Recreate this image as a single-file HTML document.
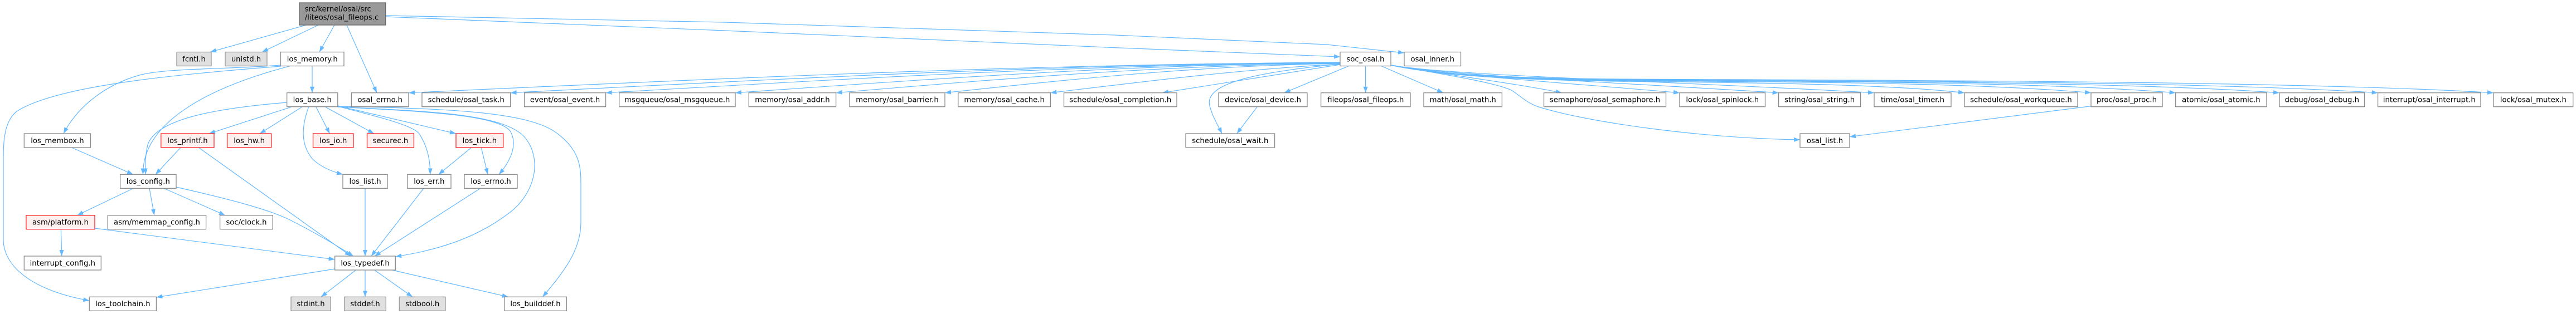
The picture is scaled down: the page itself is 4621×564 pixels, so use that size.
<!DOCTYPE html>
<html>
<head>
<meta charset="utf-8">
<style>
html,body{margin:0;padding:0;background:#fff;}
svg{display:block;}
text{font-family:"DejaVu Sans","Liberation Sans",sans-serif;font-size:13.2px;fill:#000;}
.e{fill:none;stroke:#63b8ff;stroke-width:1.2;}
.n{fill:#fff;stroke:#8a8a8a;stroke-width:1.3;}
.g{fill:#e0e0e0;stroke:#999;stroke-width:1.3;}
.r{fill:#fff0f0;stroke:#ff2020;stroke-width:1.3;}
</style>
</head>
<body>
<svg width="4621" height="564" viewBox="0 0 4621 564" xmlns="http://www.w3.org/2000/svg">
<defs>
<marker id="a" viewBox="0 0 11 8" refX="11" refY="4" markerWidth="11" markerHeight="8" markerUnits="userSpaceOnUse" orient="auto">
<path d="M0,0 L11,4 L0,8 z" fill="#63b8ff"/>
</marker>
</defs>
<rect x="0" y="0" width="4621" height="564" fill="#fff"/>

<g class="edges" marker-end="url(#a)">
<!-- main node edges -->
<path class="e" marker-end="url(#a)" d="M549,45 L377,93.5"/>
<path class="e" marker-end="url(#a)" d="M571,45 L470,93.5"/>
<path class="e" marker-end="url(#a)" d="M600,45 L573,93.5"/>
<path class="e" marker-end="url(#a)" d="M622,45 L676,166.7"/>
<path class="e" marker-end="url(#a)" d="M691.7,30 L1300,55 L2000,85.6 L2404,102"/>
<path class="e" marker-end="url(#a)" d="M691.7,28 L1300,40 L2000,63 L2380,80 L2519,95"/>

<!-- los_memory.h -->
<path class="e" marker-end="url(#a)" d="M560,118.7 L560,166.7"/>
<path class="e" marker-end="url(#a)" d="M520,118.7 C400,150 255,210 256.5,313.3"/>
<path class="e" marker-end="url(#a)" d="M503.6,117 C400,125 300,122 250,135 C190,152 140,190 114,240"/>
<path class="e" marker-end="url(#a)" d="M503.6,119 C300,135 100,155 30,200 C5,220 6,260 6,300 L6,430 C6,480 60,522 160.3,540"/>

<!-- los_membox.h -->
<path class="e" marker-end="url(#a)" d="M129.5,265.5 L238.8,313.3"/>

<!-- los_base.h -->
<path class="e" marker-end="url(#a)" d="M514.7,184 C380,195 280,215 265,260 C260,280 261,300 261,313.3"/>
<path class="e" marker-end="url(#a)" d="M522,192.3 L375,240"/>
<path class="e" marker-end="url(#a)" d="M541.5,192.3 L466,240"/>
<path class="e" marker-end="url(#a)" d="M567,192.3 L591.5,240"/>
<path class="e" marker-end="url(#a)" d="M584,192.3 L671,240"/>
<path class="e" marker-end="url(#a)" d="M553.6,192.3 C540,230 540,260 560,285 C575,300 595,308 615,313.3"/>
<path class="e" marker-end="url(#a)" d="M605.8,190 L818,240"/>
<path class="e" marker-end="url(#a)" d="M606,191 C680,210 740,225 752,240 C768,265 772,290 771.7,313.3"/>
<path class="e" marker-end="url(#a)" d="M606,192 C750,200 890,205 915,235 C930,260 915,290 895,313.3"/>
<path class="e" marker-end="url(#a)" d="M606,192 C780,200 900,205 940,245 C975,285 960,350 910,385 C850,430 780,450 709.3,461"/>
<path class="e" marker-end="url(#a)" d="M606,191 C800,195 950,200 1000,240 C1040,270 1042,300 1042,330 L1042,400 C1042,450 1010,490 973.3,533.3"/>

<!-- los_printf.h -->
<path class="e" marker-end="url(#a)" d="M323.7,265.5 L279,313.3"/>
<path class="e" marker-end="url(#a)" d="M357,265.5 L629.5,460"/>

<!-- los_config.h -->
<path class="e" marker-end="url(#a)" d="M238.8,338.5 L138.4,386.7"/>
<path class="e" marker-end="url(#a)" d="M268,338.5 L276.8,386.7"/>
<path class="e" marker-end="url(#a)" d="M294.6,338.5 L404,386.7"/>
<path class="e" marker-end="url(#a)" d="M316,336 C400,355 480,375 520,395 C570,420 610,445 634,460"/>

<!-- asm/platform.h -->
<path class="e" marker-end="url(#a)" d="M109.4,411.7 L110.7,460"/>
<path class="e" marker-end="url(#a)" d="M170,410 L600.7,466"/>

<!-- los_list / err / errno / tick -->
<path class="e" marker-end="url(#a)" d="M655,338.3 L655,460"/>
<path class="e" marker-end="url(#a)" d="M760,338.3 L666,460"/>
<path class="e" marker-end="url(#a)" d="M861.7,338.3 L672,460"/>
<path class="e" marker-end="url(#a)" d="M845,265.5 L786.7,313.3"/>
<path class="e" marker-end="url(#a)" d="M863.3,265.5 L875,313.3"/>

<!-- los_typedef.h -->
<path class="e" marker-end="url(#a)" d="M600.7,483 L280.4,534"/>
<path class="e" marker-end="url(#a)" d="M638.4,485 L576,533.3"/>
<path class="e" marker-end="url(#a)" d="M655,485 L655,533.3"/>
<path class="e" marker-end="url(#a)" d="M671.7,485 L740,533.3"/>
<path class="e" marker-end="url(#a)" d="M703.3,485 L911.7,533.3"/>

<!-- soc_osal.h left fan -->
<path class="e" marker-end="url(#a)" d="M2404,112 C1819,116 1318,140 733,166.7"/>
<path class="e" marker-end="url(#a)" d="M2404,112 C1883,116 1436,140 915.6,166.7"/>
<path class="e" marker-end="url(#a)" d="M2404,113 C1943,116 1548,140 1086.6,166.7"/>
<path class="e" marker-end="url(#a)" d="M2404,113 C2024,116 1699,140 1319,166.7"/>
<path class="e" marker-end="url(#a)" d="M2404,114 C2087,117 1816,140 1499.6,166.7"/>
<path class="e" marker-end="url(#a)" d="M2404,114 C2156,118 1943,140 1695,166.7"/>
<path class="e" marker-end="url(#a)" d="M2404,115 C2222,125 2066,145 1884.4,166.7"/>
<path class="e" marker-end="url(#a)" d="M2404,116 L2085,166.7"/>
<path class="e" marker-end="url(#a)" d="M2419.6,118.5 L2303.6,166.7"/>
<path class="e" marker-end="url(#a)" d="M2449.6,118.5 L2449.6,166.7"/>
<path class="e" marker-end="url(#a)" d="M2477.7,118.5 L2589,166.7"/>
<path class="e" marker-end="url(#a)" d="M2404,115 C2250,130 2160,150 2170,190 C2175,210 2185,225 2192,240"/>
<path class="e" marker-end="url(#a)" d="M2255,192.3 L2218.7,240"/>

<!-- soc_osal.h right fan -->
<path class="e" marker-end="url(#a)" d="M2495,117 C2600,135 2720,150 2801.7,166.7"/>
<path class="e" marker-end="url(#a)" d="M2495,117 C2600,136 2800,148 3013,166.7"/>
<path class="e" marker-end="url(#a)" d="M2495,117 C2600,136 2900,148 3190.6,166.7"/>
<path class="e" marker-end="url(#a)" d="M2495,117 C2600,136 3000,146 3362,166.7"/>
<path class="e" marker-end="url(#a)" d="M2495,117 C2580,135 2700,143 2900,146 C3100,148 3380,150 3524,166.7"/>
<path class="e" marker-end="url(#a)" d="M2495,117 C2580,135 2700,142 2900,145 C3200,147 3540,148 3751,166.7"/>
<path class="e" marker-end="url(#a)" d="M2495,117 C2580,135 2700,142 2900,144 C3200,146 3650,146 3902.7,166.7"/>
<path class="e" marker-end="url(#a)" d="M2495,117 C2580,135 2700,142 2900,144 C3200,146 3790,145 4089,166.7"/>
<path class="e" marker-end="url(#a)" d="M2495,117 C2580,135 2700,141 2900,143 C3200,145 3920,144 4265.6,166.7"/>
<path class="e" marker-end="url(#a)" d="M2495,117 C2580,134 2700,140 2900,142 C3200,144 4080,143 4473,166.7"/>
<path class="e" marker-end="url(#a)" d="M2495,117 C2600,135 2690,150 2713,163 C2730,175 2740,185 2760,192 C2850,220 3050,248 3229,251"/>
<path class="e" marker-end="url(#a)" d="M3751,190.6 L3318,245.7"/>
</g>

<!-- main node -->
<rect x="536.7" y="5" width="155" height="40" fill="#999999" stroke="#666666" stroke-width="1.3"/>
<text x="546.7" y="20.5">src/kernel/osal/src</text>
<text x="546.7" y="35.7">/liteos/osal_fileops.c</text>

<!-- Row 1 -->
<rect class="g" x="317" y="93.5" width="62" height="25"/><text x="348" y="110.3" text-anchor="middle">fcntl.h</text>
<rect class="g" x="404" y="93.5" width="75" height="25"/><text x="441.5" y="110.3" text-anchor="middle">unistd.h</text>
<rect class="n" x="503.5" y="93.5" width="113.5" height="25"/><text x="560.25" y="110.3" text-anchor="middle">los_memory.h</text>
<rect class="n" x="2404" y="93.5" width="91" height="25"/><text x="2449.5" y="110.3" text-anchor="middle">soc_osal.h</text>
<rect class="n" x="2519" y="93.5" width="101.5" height="25"/><text x="2569.75" y="110.3" text-anchor="middle">osal_inner.h</text>

<!-- Row 2 -->
<rect class="n" x="514.7" y="166.7" width="91.1" height="25"/><text x="560.25" y="183.5" text-anchor="middle">los_base.h</text>
<rect class="n" x="630.4" y="166.7" width="102.6" height="25"/><text x="681.7" y="183.5" text-anchor="middle">osal_errno.h</text>
<rect class="n" x="757" y="166.7" width="158.6" height="25"/><text x="836.3" y="183.5" text-anchor="middle">schedule/osal_task.h</text>
<rect class="n" x="940.6" y="166.7" width="146" height="25"/><text x="1013.6" y="183.5" text-anchor="middle">event/osal_event.h</text>
<rect class="n" x="1110.7" y="166.7" width="208.3" height="25"/><text x="1214.85" y="183.5" text-anchor="middle">msgqueue/osal_msgqueue.h</text>
<rect class="n" x="1343.3" y="166.7" width="156.3" height="25"/><text x="1421.45" y="183.5" text-anchor="middle">memory/osal_addr.h</text>
<rect class="n" x="1524" y="166.7" width="171" height="25"/><text x="1609.5" y="183.5" text-anchor="middle">memory/osal_barrier.h</text>
<rect class="n" x="1718.8" y="166.7" width="165.6" height="25"/><text x="1801.6" y="183.5" text-anchor="middle">memory/osal_cache.h</text>
<rect class="n" x="1908.5" y="166.7" width="202.5" height="25"/><text x="2009.75" y="183.5" text-anchor="middle">schedule/osal_completion.h</text>
<rect class="n" x="2186" y="166.7" width="159" height="25"/><text x="2265.5" y="183.5" text-anchor="middle">device/osal_device.h</text>
<rect class="n" x="2369.6" y="166.7" width="160.4" height="25"/><text x="2449.8" y="183.5" text-anchor="middle">fileops/osal_fileops.h</text>
<rect class="n" x="2554" y="166.7" width="140.4" height="25"/><text x="2624.2" y="183.5" text-anchor="middle">math/osal_math.h</text>
<rect class="n" x="2769.5" y="166.7" width="219" height="25"/><text x="2879" y="183.5" text-anchor="middle">semaphore/osal_semaphore.h</text>
<rect class="n" x="3013" y="166.7" width="153.5" height="25"/><text x="3089.75" y="183.5" text-anchor="middle">lock/osal_spinlock.h</text>
<rect class="n" x="3190.6" y="166.7" width="147" height="25"/><text x="3264.1" y="183.5" text-anchor="middle">string/osal_string.h</text>
<rect class="n" x="3362" y="166.7" width="138" height="25"/><text x="3431" y="183.5" text-anchor="middle">time/osal_timer.h</text>
<rect class="n" x="3524" y="166.7" width="203" height="25"/><text x="3625.5" y="183.5" text-anchor="middle">schedule/osal_workqueue.h</text>
<rect class="n" x="3751" y="166.7" width="128" height="25"/><text x="3815" y="183.5" text-anchor="middle">proc/osal_proc.h</text>
<rect class="n" x="3902.7" y="166.7" width="163.3" height="25"/><text x="3984.35" y="183.5" text-anchor="middle">atomic/osal_atomic.h</text>
<rect class="n" x="4089" y="166.7" width="152.5" height="25"/><text x="4165.25" y="183.5" text-anchor="middle">debug/osal_debug.h</text>
<rect class="n" x="4265.6" y="166.7" width="184.4" height="25"/><text x="4357.8" y="183.5" text-anchor="middle">interrupt/osal_interrupt.h</text>
<rect class="n" x="4473" y="166.7" width="142.7" height="25"/><text x="4544.35" y="183.5" text-anchor="middle">lock/osal_mutex.h</text>

<!-- Row 3 -->
<rect class="n" x="43.3" y="240" width="119.2" height="25"/><text x="102.9" y="256.8" text-anchor="middle">los_membox.h</text>
<rect class="r" x="288.8" y="240" width="95.2" height="25"/><text x="336.4" y="256.8" text-anchor="middle">los_printf.h</text>
<rect class="r" x="407.6" y="240" width="79" height="25"/><text x="447.1" y="256.8" text-anchor="middle">los_hw.h</text>
<rect class="r" x="561.6" y="240" width="72.4" height="25"/><text x="597.8" y="256.8" text-anchor="middle">los_io.h</text>
<rect class="r" x="658.5" y="240" width="83.9" height="25"/><text x="700.45" y="256.8" text-anchor="middle">securec.h</text>
<rect class="r" x="818" y="240" width="84.7" height="25"/><text x="860.35" y="256.8" text-anchor="middle">los_tick.h</text>
<rect class="n" x="2127" y="240" width="159.6" height="25"/><text x="2206.8" y="256.8" text-anchor="middle">schedule/osal_wait.h</text>
<rect class="n" x="3229" y="240" width="89" height="25"/><text x="3273.5" y="256.8" text-anchor="middle">osal_list.h</text>

<!-- Row 4 -->
<rect class="n" x="215.6" y="313.3" width="100.4" height="25"/><text x="265.8" y="330.1" text-anchor="middle">los_config.h</text>
<rect class="n" x="615" y="313.3" width="80" height="25"/><text x="655" y="330.1" text-anchor="middle">los_list.h</text>
<rect class="n" x="730.7" y="313.3" width="78.3" height="25"/><text x="769.85" y="330.1" text-anchor="middle">los_err.h</text>
<rect class="n" x="833" y="313.3" width="95" height="25"/><text x="880.5" y="330.1" text-anchor="middle">los_errno.h</text>

<!-- Row 5 -->
<rect class="r" x="46.9" y="386.7" width="123.1" height="25"/><text x="108.45" y="403.5" text-anchor="middle">asm/platform.h</text>
<rect class="n" x="193.3" y="386.7" width="176.3" height="25"/><text x="281.45" y="403.5" text-anchor="middle">asm/memmap_config.h</text>
<rect class="n" x="394.6" y="386.7" width="94.7" height="25"/><text x="441.95" y="403.5" text-anchor="middle">soc/clock.h</text>

<!-- Row 6 -->
<rect class="n" x="43.3" y="460" width="138" height="25"/><text x="112.3" y="476.8" text-anchor="middle">interrupt_config.h</text>
<rect class="n" x="600.7" y="460" width="108.6" height="25"/><text x="655" y="476.8" text-anchor="middle">los_typedef.h</text>

<!-- Row 7 -->
<rect class="n" x="160.3" y="533.3" width="120.1" height="25"/><text x="220.35" y="550.1" text-anchor="middle">los_toolchain.h</text>
<rect class="g" x="522" y="533.3" width="71" height="25"/><text x="557.5" y="550.1" text-anchor="middle">stdint.h</text>
<rect class="g" x="617.7" y="533.3" width="74.6" height="25"/><text x="655" y="550.1" text-anchor="middle">stddef.h</text>
<rect class="g" x="716.3" y="533.3" width="82.7" height="25"/><text x="757.65" y="550.1" text-anchor="middle">stdbool.h</text>
<rect class="n" x="904.7" y="533.3" width="111.6" height="25"/><text x="960.5" y="550.1" text-anchor="middle">los_builddef.h</text>
</svg>
</body>
</html>
